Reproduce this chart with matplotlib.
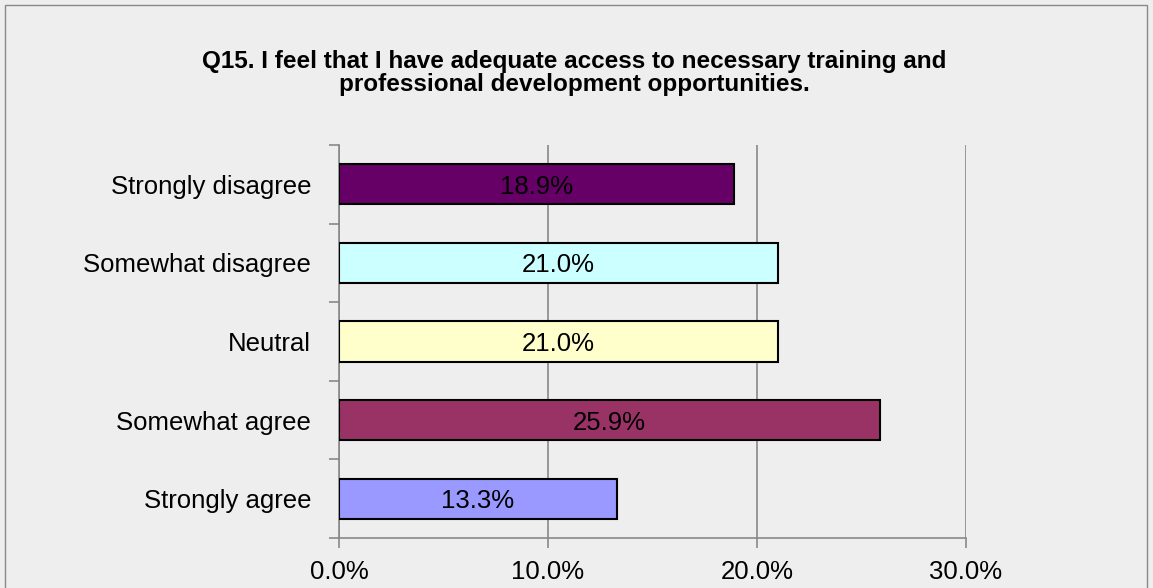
import matplotlib
matplotlib.use("Agg")
import matplotlib.pyplot as plt
from matplotlib.patches import Rectangle
from matplotlib.ticker import FixedLocator, FuncFormatter

categories = ["Strongly disagree", "Somewhat disagree", "Neutral", "Somewhat agree", "Strongly agree"]
values = [18.9, 21.0, 21.0, 25.9, 13.3]
colors = ["#660066", "#CCFFFF", "#FFFFCC", "#993366", "#9999FF"]
xticks = [0, 10, 20, 30]
title = ("Q15. I feel that I have adequate access to necessary training and\n"
         "professional development opportunities.")

plt.rcParams['font.family'] = ['Liberation Sans', 'DejaVu Sans']

fig = plt.figure(figsize=(11.53, 5.88), dpi=100)
fig.patch.set_facecolor("#EEEEEE")
fig.patches.append(Rectangle((5 / 1153, -0.1), 1142 / 1153, 1.1 - 5 / 588, transform=fig.transFigure,
                             fill=False, edgecolor="#888888", linewidth=1))

ax = fig.add_axes([339 / 1153, 50 / 588, 627 / 1153, 393 / 588])
ax.set_facecolor("#EEEEEE")

pos = list(range(len(categories)))
ax.barh(pos, values, height=0.51, color=colors, edgecolor="black", linewidth=1.5, zorder=3)
for p, v in zip(pos, values):
    ax.text(v / 2, p, f"{v:.1f}%", ha="center", va="center_baseline", fontsize=18.5,
            color="black", zorder=4)

ax.set_xlim(0, 30)
ax.set_ylim(len(categories) - 0.5, -0.5)
ax.set_xticks(xticks)
ax.xaxis.set_major_formatter(FuncFormatter(lambda x, _: f"{x:.1f}%"))
ax.set_yticks(pos)
ax.set_yticklabels(categories)
ax.yaxis.set_minor_locator(FixedLocator([i - 0.5 for i in range(len(categories) + 1)]))
ax.tick_params(axis="y", which="major", length=0, pad=20, labelsize=18.5)
ax.tick_params(axis="y", which="minor", length=7, color="#888888", width=1.2)
ax.tick_params(axis="x", length=7, color="#888888", width=1.2, labelsize=18.5, pad=9)
ax.grid(axis="x", color="#888888", linewidth=1.2, zorder=0)

for s in ["top", "right"]:
    ax.spines[s].set_visible(False)
for s in ["left", "bottom"]:
    ax.spines[s].set_color("#888888")
    ax.spines[s].set_linewidth(1.2)

fig.text(574 / 1153, 1 - 73 / 588, title, ha="center", va="center", fontsize=17.5,
         fontweight="bold", linespacing=1.05)

fig.savefig("out.png", dpi=100, facecolor=fig.get_facecolor())
